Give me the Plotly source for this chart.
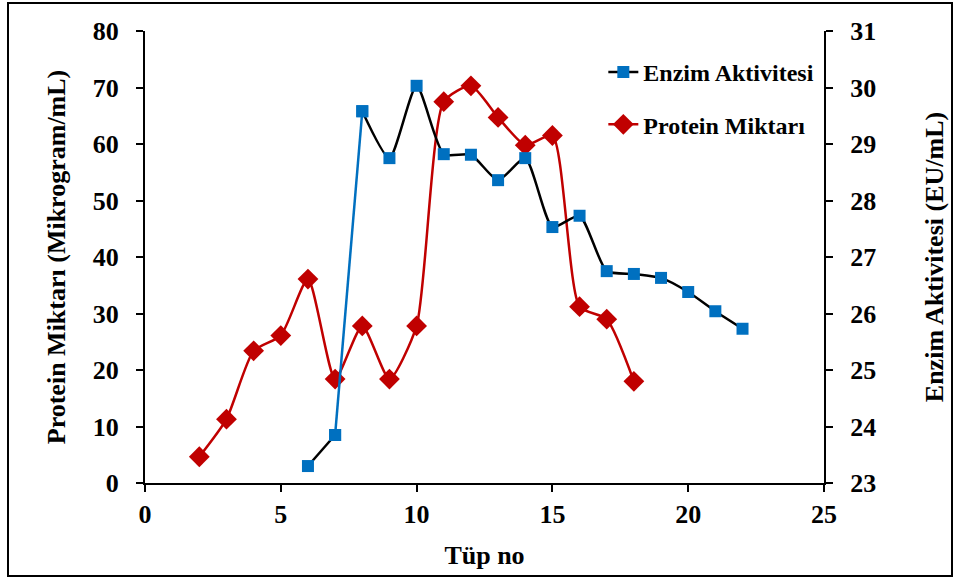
import plotly.graph_objects as go

# Tube numbers and measured values
tube_enzyme = [6, 7, 8, 9, 10, 11, 12, 13, 14, 15, 16, 17, 18, 19, 20, 21, 22]
enzyme_activity = [23.30, 23.85, 29.58, 28.75, 30.03, 28.82, 28.81, 28.36, 28.75,
                   27.53, 27.73, 26.75, 26.70, 26.63, 26.38, 26.04, 25.73]

tube_protein = [2, 3, 4, 5, 6, 7, 8, 9, 10, 11, 12, 13, 14, 15, 16, 17, 18]
protein_amount = [4.65, 11.3, 23.4, 26.1, 36.1, 18.4, 27.8, 18.4, 27.8,
                  67.5, 70.3, 64.7, 59.8, 61.5, 31.2, 29.0, 18.0]

x_ticks = [0, 5, 10, 15, 20, 25]
left_ticks = [0, 10, 20, 30, 40, 50, 60, 70, 80]
right_ticks = [23, 24, 25, 26, 27, 28, 29, 30, 31]

BLUE = "#0070C0"
RED = "#C00000"
SMOOTH = 0.6

# the 7 -> 8 step of the enzyme curve is drawn separately in blue,
# so the black curve is broken there
i7 = tube_enzyme.index(7)
black_x = tube_enzyme[:i7 + 1] + [None] + tube_enzyme[i7 + 1:]
black_y = enzyme_activity[:i7 + 1] + [None] + enzyme_activity[i7 + 1:]

fig = go.Figure()

fig.add_trace(go.Scatter(
    x=black_x, y=black_y, name="Enzim Aktivitesi",
    mode="lines+markers", yaxis="y2", legendgroup="e", connectgaps=False,
    line=dict(color="black", width=2.5, shape="spline", smoothing=SMOOTH),
    marker=dict(symbol="square", size=12, color=BLUE),
))

fig.add_trace(go.Scatter(
    x=tube_protein, y=protein_amount, name="Protein Miktarı",
    mode="lines+markers", legendgroup="p",
    line=dict(color=RED, width=2.5, shape="spline", smoothing=SMOOTH),
    marker=dict(symbol="diamond", size=16, color=RED),
))

fig.add_trace(go.Scatter(
    x=tube_enzyme[i7:i7 + 2], y=enzyme_activity[i7:i7 + 2],
    mode="lines+markers", yaxis="y2", showlegend=False, hoverinfo="skip",
    line=dict(color=BLUE, width=2.5),
    marker=dict(symbol="square", size=12, color=BLUE),
))

W, H = 959, 580
L, R, T, B = 145, 135, 31, 97
pw, ph = W - L - R, H - T - B


def px_x(p):
    return (p - L) / pw


def px_y(p):
    return (H - B - p) / ph


fig.add_shape(type="rect", xref="paper", yref="paper",
              x0=px_x(8), x1=px_x(952), y0=px_y(576), y1=px_y(3),
              line=dict(color="black", width=2), fillcolor="rgba(0,0,0,0)")

axis_common = dict(showline=True, linecolor="black", linewidth=2,
                   ticks="outside", ticklen=7, tickwidth=2, tickcolor="black",
                   showgrid=False, zeroline=False, tickfont=dict(size=26))

fig.update_layout(
    width=W, height=H,
    margin=dict(l=L, r=R, t=T, b=B, pad=0),
    paper_bgcolor="white", plot_bgcolor="white",
    font=dict(family="Liberation Serif", size=24, color="black", weight="bold"),
    xaxis=dict(range=[0, 25], tickvals=x_ticks, ticklabelstandoff=0,
               title=dict(text="Tüp no", standoff=18, font=dict(size=26)),
               **axis_common),
    yaxis=dict(range=[0, 80], tickvals=left_ticks, ticklabelstandoff=12,
               title=dict(text="Protein Miktarı (Mikrogram/mL)", standoff=20,
                          font=dict(size=26)),
               **axis_common),
    yaxis2=dict(range=[23, 31], tickvals=right_ticks, overlaying="y", side="right",
                ticklabelstandoff=12,
                title=dict(text="Enzim Aktivitesi (EU/mL)", standoff=50,
                           font=dict(size=26)),
                **axis_common),
    legend=dict(x=0.675, y=0.958, xanchor="left", yanchor="top",
                bgcolor="rgba(0,0,0,0)", traceorder="grouped",
                tracegroupgap=18, font=dict(size=24)),
    showlegend=True,
)

fig.write_html("out.html")
